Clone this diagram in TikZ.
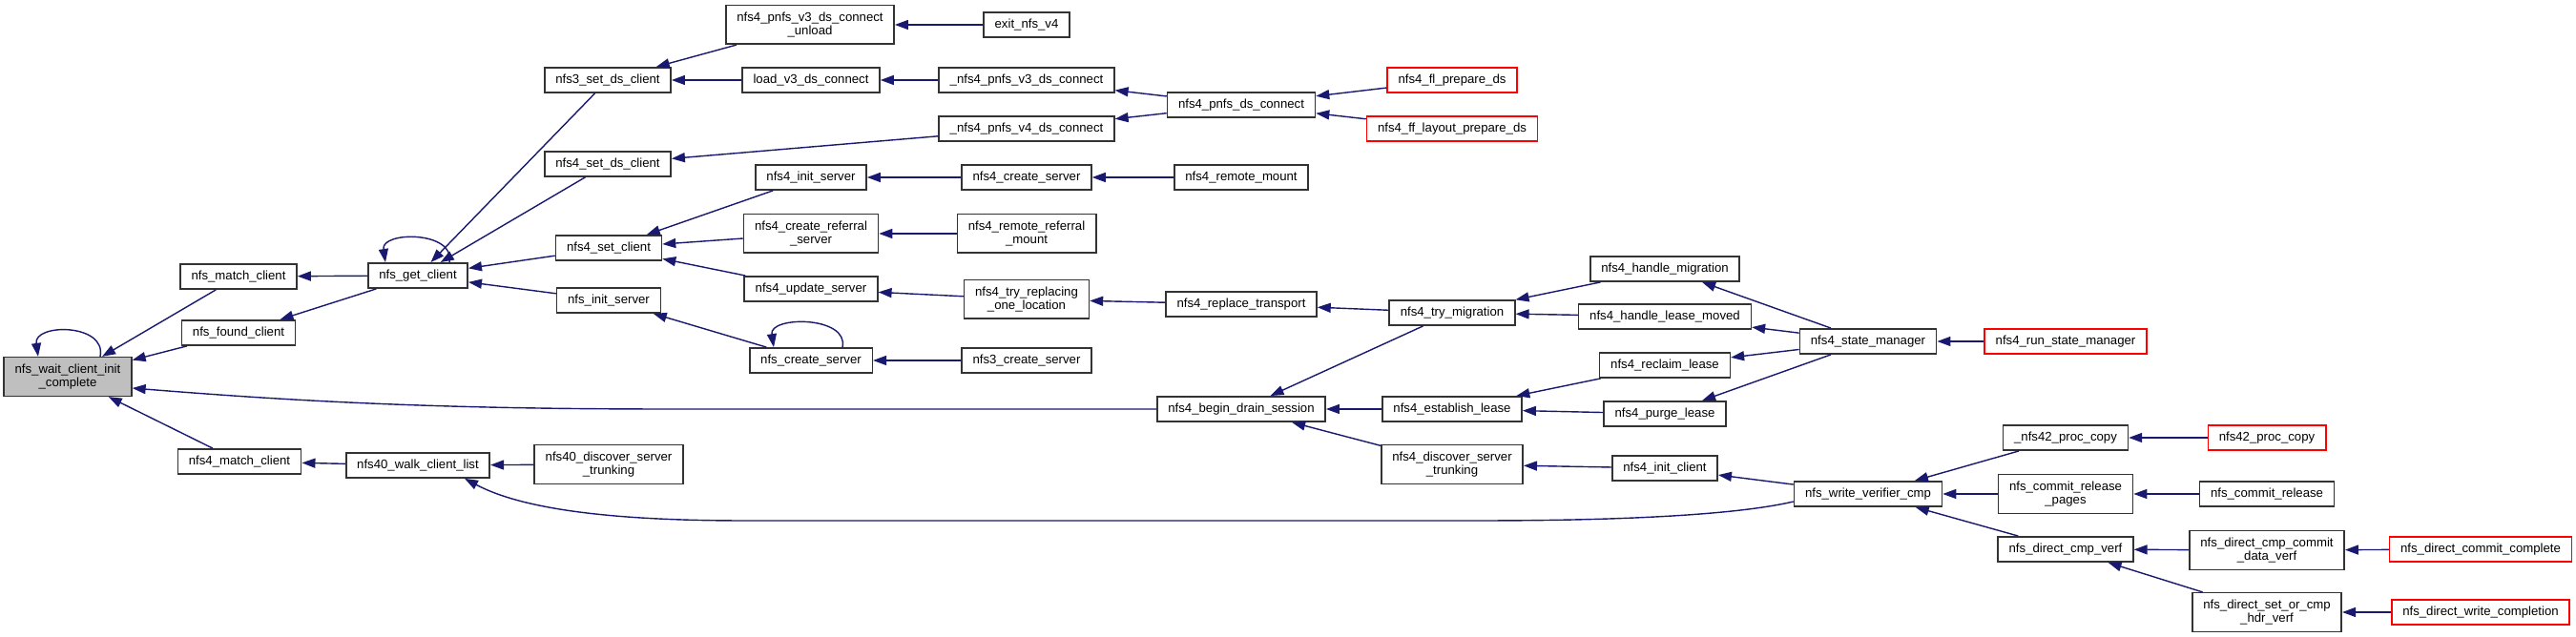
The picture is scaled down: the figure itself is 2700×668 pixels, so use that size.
\documentclass[tikz,border=0pt]{standalone}
\usepackage{fontspec}
\setmainfont{Liberation Sans}
\usetikzlibrary{arrows.meta}

\definecolor{edgeblue}{HTML}{191970}
\definecolor{rootgray}{HTML}{BFBFBF}

\begin{document}
\begin{tikzpicture}[
  x=0.01cm, y=0.01cm,
  font=\fontsize{3.75pt}{4.1pt}\selectfont,
  fn/.style={draw=black!80, fill=white, line width=0.45pt, align=center,
             inner xsep=1.15mm, inner ysep=0.7mm, minimum height=2.6mm},
  root/.style={fn, fill=rootgray},
  ext/.style={fn, draw=red},
  call/.style={-{Triangle[length=1.4mm,width=1mm]}, line width=0.4pt, edgeblue},
]
  \useasboundingbox (0,0) rectangle (2700,-668);

  % Column 1-3
  \node[root] (wait) at (71,-395) {nfs\_wait\_client\_init\\\_complete};
  \node[fn] (match) at (250,-290) {nfs\_match\_client};
  \node[fn] (found) at (250,-349) {nfs\_found\_client};
  \node[fn] (m4match) at (251,-484) {nfs4\_match\_client};
  \node[fn] (getcl) at (438,-289) {nfs\_get\_client};
  \node[fn] (walk) at (438,-488) {nfs40\_walk\_client\_list};
  % Column 4
  \node[fn] (s3ds) at (637,-84) {nfs3\_set\_ds\_client};
  \node[fn] (s4ds) at (637,-172) {nfs4\_set\_ds\_client};
  \node[fn] (s4cl) at (638,-260) {nfs4\_set\_client};
  \node[fn] (initsrv) at (638,-315) {nfs\_init\_server};
  \node[fn] (d40trunk) at (638,-487) {nfs40\_discover\_server\\\_trunking};
  % Column 5
  \node[fn] (unload) at (849,-26) {nfs4\_pnfs\_v3\_ds\_connect\\\_unload};
  \node[fn] (loadv3) at (850,-84) {load\_v3\_ds\_connect};
  \node[fn] (in4srv) at (850,-186) {nfs4\_init\_server};
  \node[fn] (crref) at (850,-245) {nfs4\_create\_referral\\\_server};
  \node[fn] (upd4) at (850,-303) {nfs4\_update\_server};
  \node[fn] (crsrv) at (850,-378) {nfs\_create\_server};
  % Column 6
  \node[fn] (exitv4) at (1076,-26) {exit\_nfs\_v4};
  \node[fn] (p3conn) at (1076,-84) {\_nfs4\_pnfs\_v3\_ds\_connect};
  \node[fn] (p4conn) at (1076,-135) {\_nfs4\_pnfs\_v4\_ds\_connect};
  \node[fn] (cr4srv) at (1076,-186) {nfs4\_create\_server};
  \node[fn] (remref) at (1076,-245) {nfs4\_remote\_referral\\\_mount};
  \node[fn] (tryrepl) at (1076,-314) {nfs4\_try\_replacing\\\_one\_location};
  \node[fn] (cr3srv) at (1076,-378) {nfs3\_create\_server};
  % Column 7
  \node[fn] (pnfsconn) at (1301,-110) {nfs4\_pnfs\_ds\_connect};
  \node[fn] (remmount) at (1301,-186) {nfs4\_remote\_mount};
  \node[fn] (repltr) at (1301,-319) {nfs4\_replace\_transport};
  \node[fn] (drain) at (1301,-429) {nfs4\_begin\_drain\_session};
  % Column 8
  \node[ext] (flprep) at (1522,-84) {nfs4\_fl\_prepare\_ds};
  \node[ext] (ffprep) at (1522,-135) {nfs4\_ff\_layout\_prepare\_ds};
  \node[fn] (trymig) at (1522,-328) {nfs4\_try\_migration};
  \node[fn] (establ) at (1522,-429) {nfs4\_establish\_lease};
  \node[fn] (d4trunk) at (1522,-487) {nfs4\_discover\_server\\\_trunking};
  % Column 9
  \node[fn] (handmig) at (1745,-282) {nfs4\_handle\_migration};
  \node[fn] (handlm) at (1745,-332) {nfs4\_handle\_lease\_moved};
  \node[fn] (reclaim) at (1745,-383) {nfs4\_reclaim\_lease};
  \node[fn] (purge) at (1745,-434) {nfs4\_purge\_lease};
  \node[fn] (initcl) at (1745,-491) {nfs4\_init\_client};
  % Column 10-11
  \node[fn] (statemgr) at (1958,-358) {nfs4\_state\_manager};
  \node[fn] (wvc) at (1958,-518) {nfs\_write\_verifier\_cmp};
  \node[ext] (runsm) at (2165,-358) {nfs4\_run\_state\_manager};
  \node[fn] (p42copy) at (2165,-459) {\_nfs42\_proc\_copy};
  \node[fn] (commitpg) at (2165,-518) {nfs\_commit\_release\\\_pages};
  \node[fn] (dcmp) at (2165,-576) {nfs\_direct\_cmp\_verf};
  % Column 12-13
  \node[ext] (n42copy) at (2376,-459) {nfs42\_proc\_copy};
  \node[fn] (commitrel) at (2376,-518) {nfs\_commit\_release};
  \node[fn] (commitdv) at (2376,-577) {nfs\_direct\_cmp\_commit\\\_data\_verf};
  \node[fn] (setcmp) at (2376,-642) {nfs\_direct\_set\_or\_cmp\\\_hdr\_verf};
  \node[ext] (dcomplete) at (2600,-576) {nfs\_direct\_commit\_complete};
  \node[ext] (dwrite) at (2600,-642) {nfs\_direct\_write\_completion};

  % Self calls
  \draw[call] ([xshift=3.4mm]wait.north) .. controls +(7,35) and +(-5,35) .. ([xshift=-3.1mm]wait.north);
  \draw[call] ([xshift=3.3mm]getcl.north) .. controls +(7,33) and +(-5,33) .. ([xshift=-3.4mm]getcl.north);
  \draw[call] ([xshift=3.3mm]crsrv.north) .. controls +(7,33) and +(-5,33) .. ([xshift=-3.9mm]crsrv.north);

  % Callers of nfs_wait_client_init_complete
  \draw[call] (match) -- (wait);
  \draw[call] (found) -- (wait);
  \draw[call] (m4match) -- (wait);
  \draw[call] (drain.west) -- (700,-429) .. controls (450,-429) and (300,-420) .. ([yshift=-1.2mm]wait.east);
  \draw[call] (getcl) -- (match);
  \draw[call] (getcl) -- (found);
  \draw[call] (walk) -- (m4match);
  \draw[call] (s3ds) -- (getcl);
  \draw[call] (s4ds) -- (getcl);
  \draw[call] (s4cl) -- (getcl);
  \draw[call] (initsrv) -- (getcl);
  \draw[call] (d40trunk) -- (walk);
  \draw[call] ([yshift=-0.8mm]wvc.west) .. controls (1820,-540) and (1700,-546) .. (1550,-546)
    -- (780,-546) .. controls (620,-546) and (540,-530) .. ([xshift=4.9mm]walk.south);

  % Middle columns
  \draw[call] (unload) -- (s3ds);
  \draw[call] (loadv3) -- (s3ds);
  \draw[call] (p4conn) -- (s4ds);
  \draw[call] (in4srv) -- (s4cl);
  \draw[call] (crref) -- (s4cl);
  \draw[call] (upd4) -- (s4cl);
  \draw[call] (crsrv) -- (initsrv);
  \draw[call] (cr3srv) -- (crsrv);
  \draw[call] (exitv4) -- (unload);
  \draw[call] (p3conn) -- (loadv3);
  \draw[call] (cr4srv) -- (in4srv);
  \draw[call] (remref) -- (crref);
  \draw[call] (tryrepl) -- (upd4);
  \draw[call] (pnfsconn) -- (p3conn);
  \draw[call] (pnfsconn) -- (p4conn);
  \draw[call] (remmount) -- (cr4srv);
  \draw[call] (repltr) -- (tryrepl);
  \draw[call] (flprep) -- (pnfsconn);
  \draw[call] (ffprep) -- (pnfsconn);
  \draw[call] (trymig) -- (repltr);
  \draw[call] (trymig) -- (drain);
  \draw[call] (establ) -- (drain);
  \draw[call] (d4trunk) -- (drain);

  % Right columns
  \draw[call] (handmig) -- (trymig);
  \draw[call] (handlm) -- (trymig);
  \draw[call] (reclaim) -- (establ);
  \draw[call] (purge) -- (establ);
  \draw[call] (initcl) -- (d4trunk);
  \draw[call] (statemgr) -- (handmig);
  \draw[call] (statemgr) -- (handlm);
  \draw[call] (statemgr) -- (reclaim);
  \draw[call] (statemgr) -- (purge);
  \draw[call] (wvc) -- (initcl);
  \draw[call] (runsm) -- (statemgr);
  \draw[call] (p42copy) -- (wvc);
  \draw[call] (commitpg) -- (wvc);
  \draw[call] (dcmp) -- (wvc);
  \draw[call] (n42copy) -- (p42copy);
  \draw[call] (commitrel) -- (commitpg);
  \draw[call] (commitdv) -- (dcmp);
  \draw[call] (setcmp) -- (dcmp);
  \draw[call] (dcomplete) -- (commitdv);
  \draw[call] (dwrite) -- (setcmp);
\end{tikzpicture}
\end{document}
